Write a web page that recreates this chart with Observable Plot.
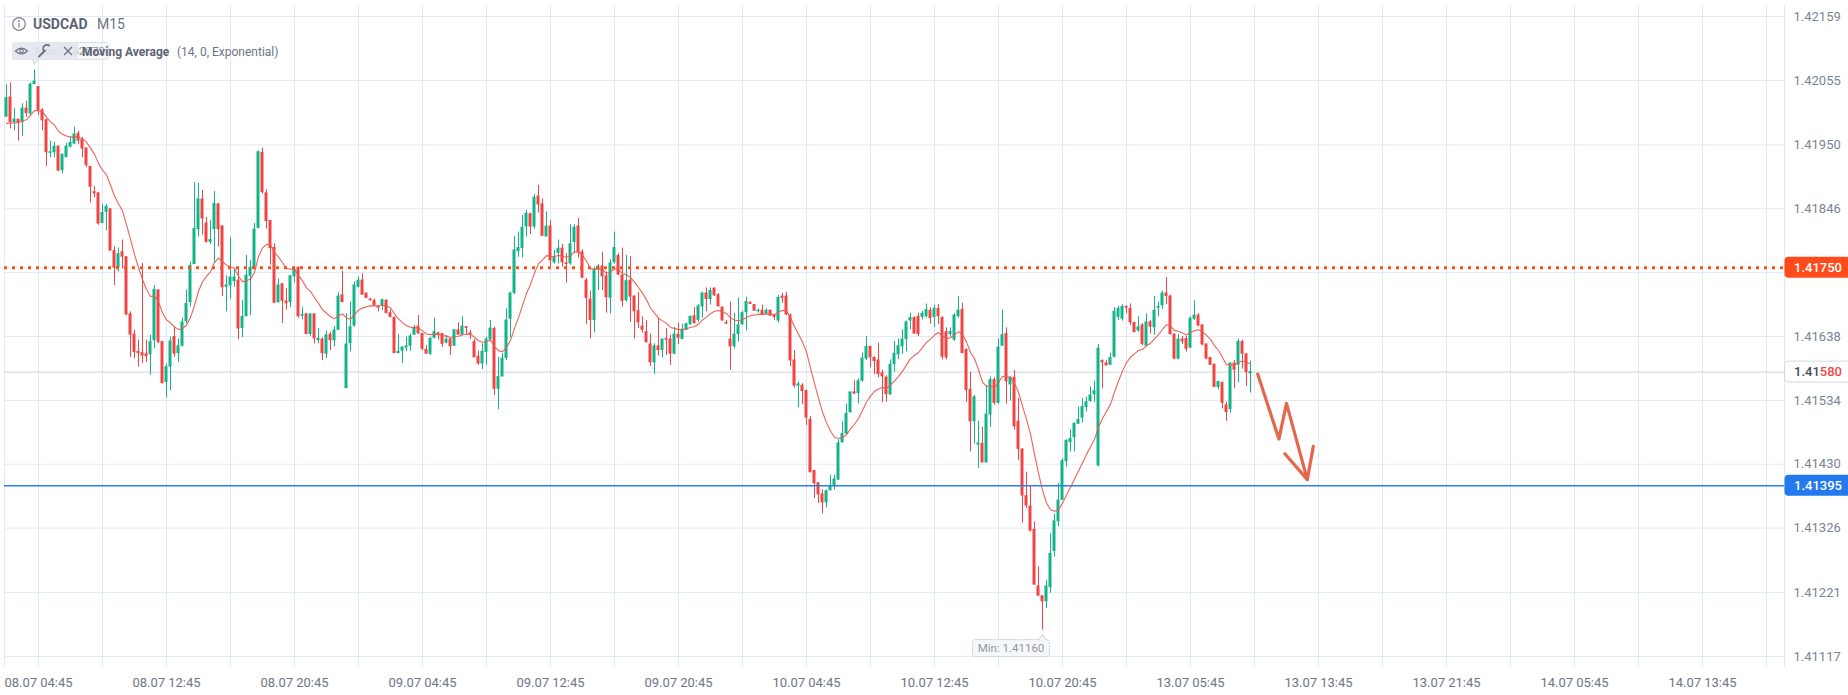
<!DOCTYPE html>
<html><head><meta charset="utf-8">
<script src="https://cdn.jsdelivr.net/npm/d3@7"></script>
<script src="https://cdn.jsdelivr.net/npm/@observablehq/plot@0.6"></script>
<style>
html,body{margin:0;padding:0;background:#fff;overflow:hidden;}
#chart{position:relative;width:1848px;height:695px;}
</style></head><body><div id="chart"></div>
<script>
// ---------- data ----------
const symbol = "USDCAD", timeframe = "M15";
const indicatorName = "Moving Average", indicatorParams = "(14, 0, Exponential)";
const maPeriod = 14;
const maSeed = 1.41985; // MA value read at the first visible bar

const opens = [
1.41996,1.42027,1.41987,1.41991,1.41987,1.42009,1.42001,1.42049,
1.42044,1.42006,1.41990,1.41937,1.41938,1.41947,1.41909,1.41930,
1.41947,1.41952,1.41968,1.41958,1.41944,1.41914,1.41873,1.41871,
1.41823,1.41841,1.41845,1.41777,1.41750,1.41775,1.41767,1.41674,
1.41641,1.41613,1.41611,1.41609,1.41609,1.41632,1.41713,1.41629,
1.41564,1.41589,1.41637,1.41611,1.41623,1.41663,1.41694,1.41756,
1.41813,1.41861,1.41822,1.41792,1.41813,1.41853,1.41817,1.41719,
1.41721,1.41728,1.41729,1.41652,1.41671,1.41737,1.41750,1.41815,
1.41937,1.41871,1.41826,1.41782,1.41694,1.41723,1.41695,1.41694,
1.41736,1.41750,1.41672,1.41674,1.41642,1.41674,1.41632,1.41633,
1.41610,1.41641,1.41632,1.41649,1.41705,1.41554,1.41627,1.41656,
1.41719,1.41729,1.41708,1.41698,1.41696,1.41687,1.41689,1.41696,
1.41676,1.41668,1.41611,1.41615,1.41620,1.41623,1.41641,1.41654,
1.41642,1.41616,1.41610,1.41636,1.41643,1.41642,1.41628,1.41633,
1.41623,1.41648,1.41641,1.41653,1.41643,1.41629,1.41605,1.41594,
1.41613,1.41633,1.41650,1.41553,1.41573,1.41603,1.41667,1.41709,
1.41777,1.41782,1.41817,1.41837,1.41817,1.41866,1.41853,1.41801,
1.41817,1.41759,1.41774,1.41781,1.41757,1.41757,1.41792,1.41817,
1.41775,1.41729,1.41698,1.41665,1.41747,1.41752,1.41736,1.41701,
1.41759,1.41769,1.41737,1.41697,1.41729,1.41703,1.41679,1.41654,
1.41645,1.41625,1.41596,1.41622,1.41616,1.41634,1.41633,1.41610,
1.41641,1.41634,1.41649,1.41658,1.41671,1.41665,1.41687,1.41708,
1.41699,1.41716,1.41705,1.41685,1.41660,1.41633,1.41622,1.41642,
1.41658,1.41678,1.41693,1.41689,1.41679,1.41680,1.41675,1.41680,
1.41672,1.41664,1.41703,1.41703,1.41672,1.41599,1.41558,1.41558,
1.41549,1.41502,1.41419,1.41399,1.41381,1.41368,1.41388,1.41395,
1.41405,1.41466,1.41480,1.41515,1.41547,1.41546,1.41566,1.41602,
1.41621,1.41603,1.41599,1.41578,1.41571,1.41544,1.41593,1.41609,
1.41622,1.41634,1.41664,1.41668,1.41670,1.41670,1.41671,1.41680,
1.41670,1.41683,1.41668,1.41645,1.41642,1.41633,1.41671,1.41681,
1.41616,1.41551,1.41500,1.41462,1.41463,1.41433,1.41511,1.41567,
1.41530,1.41623,1.41642,1.41560,1.41571,1.41499,1.41454,1.41378,
1.41361,1.41323,1.41231,1.41215,1.41207,1.41230,1.41289,1.41337,
1.41372,1.41435,1.41466,1.41474,1.41496,1.41506,1.41523,1.41533,
1.41544,1.41428,1.41598,1.41594,1.41592,1.41605,1.41670,1.41667,
1.41686,1.41683,1.41660,1.41648,1.41656,1.41623,1.41661,1.41653,
1.41685,1.41689,1.41708,1.41703,1.41641,1.41602,1.41633,1.41634,
1.41620,1.41667,1.41672,1.41656,1.41625,1.41603,1.41592,1.41556,
1.41562,1.41526,1.41520,1.41594,1.41592,1.41629,1.41609,1.41578];

const highs = [
1.42048,1.42051,1.42009,1.41991,1.42017,1.42021,1.42051,1.42072,
1.42045,1.42009,1.41992,1.41956,1.41954,1.41948,1.41934,1.41952,
1.41963,1.41979,1.41972,1.41962,1.41945,1.41915,1.41882,1.41873,
1.41853,1.41853,1.41846,1.41784,1.41782,1.41795,1.41768,1.41678,
1.41648,1.41632,1.41757,1.41632,1.41640,1.41721,1.41714,1.41630,
1.41593,1.41637,1.41653,1.41634,1.41668,1.41714,1.41759,1.41889,
1.41887,1.41876,1.41832,1.41827,1.41874,1.41855,1.41818,1.41737,
1.41799,1.41747,1.41751,1.41697,1.41770,1.41762,1.41822,1.41940,
1.41945,1.41877,1.41827,1.41789,1.41732,1.41724,1.41716,1.41737,
1.41752,1.41751,1.41685,1.41676,1.41675,1.41675,1.41651,1.41636,
1.41647,1.41645,1.41654,1.41709,1.41744,1.41675,1.41694,1.41727,
1.41735,1.41740,1.41708,1.41700,1.41699,1.41687,1.41699,1.41698,
1.41681,1.41670,1.41641,1.41621,1.41637,1.41642,1.41656,1.41672,
1.41643,1.41623,1.41637,1.41668,1.41645,1.41643,1.41640,1.41636,
1.41649,1.41660,1.41670,1.41654,1.41648,1.41633,1.41614,1.41626,
1.41637,1.41664,1.41653,1.41604,1.41610,1.41683,1.41710,1.41801,
1.41808,1.41835,1.41843,1.41839,1.41869,1.41884,1.41862,1.41841,
1.41827,1.41778,1.41795,1.41788,1.41773,1.41820,1.41820,1.41830,
1.41779,1.41732,1.41712,1.41751,1.41755,1.41775,1.41743,1.41763,
1.41808,1.41773,1.41782,1.41770,1.41768,1.41704,1.41710,1.41670,
1.41664,1.41642,1.41626,1.41667,1.41634,1.41651,1.41640,1.41653,
1.41660,1.41658,1.41659,1.41671,1.41685,1.41690,1.41710,1.41717,
1.41717,1.41717,1.41708,1.41686,1.41664,1.41694,1.41676,1.41701,
1.41679,1.41702,1.41694,1.41690,1.41683,1.41689,1.41683,1.41681,
1.41674,1.41705,1.41708,1.41710,1.41675,1.41615,1.41564,1.41561,
1.41551,1.41508,1.41420,1.41400,1.41388,1.41388,1.41412,1.41412,
1.41470,1.41499,1.41528,1.41547,1.41566,1.41569,1.41611,1.41638,
1.41622,1.41605,1.41627,1.41583,1.41574,1.41600,1.41630,1.41634,
1.41649,1.41663,1.41676,1.41670,1.41676,1.41679,1.41691,1.41685,
1.41689,1.41690,1.41670,1.41652,1.41652,1.41675,1.41703,1.41692,
1.41618,1.41580,1.41542,1.41500,1.41490,1.41558,1.41572,1.41571,
1.41634,1.41681,1.41652,1.41572,1.41583,1.41537,1.41455,1.41417,
1.41394,1.41336,1.41263,1.41216,1.41241,1.41317,1.41349,1.41399,
1.41439,1.41470,1.41486,1.41497,1.41523,1.41537,1.41539,1.41556,
1.41565,1.41625,1.41600,1.41599,1.41611,1.41685,1.41687,1.41690,
1.41688,1.41691,1.41661,1.41670,1.41659,1.41675,1.41664,1.41703,
1.41694,1.41712,1.41734,1.41705,1.41642,1.41641,1.41638,1.41638,
1.41670,1.41696,1.41675,1.41657,1.41626,1.41604,1.41593,1.41565,
1.41564,1.41531,1.41595,1.41599,1.41634,1.41632,1.41610,1.41598];

const lows = [
1.41995,1.41976,1.41973,1.41956,1.41964,1.41995,1.41998,1.42048,
1.41998,1.41973,1.41915,1.41929,1.41929,1.41907,1.41903,1.41929,
1.41945,1.41951,1.41951,1.41929,1.41913,1.41855,1.41864,1.41819,
1.41822,1.41810,1.41777,1.41721,1.41743,1.41748,1.41672,1.41604,
1.41602,1.41588,1.41594,1.41596,1.41575,1.41618,1.41626,1.41561,
1.41538,1.41550,1.41604,1.41596,1.41621,1.41659,1.41686,1.41755,
1.41800,1.41803,1.41790,1.41788,1.41757,1.41784,1.41703,1.41678,
1.41699,1.41718,1.41633,1.41636,1.41670,1.41672,1.41748,1.41813,
1.41870,1.41813,1.41754,1.41692,1.41692,1.41659,1.41681,1.41685,
1.41725,1.41668,1.41665,1.41641,1.41638,1.41626,1.41626,1.41599,
1.41602,1.41615,1.41621,1.41648,1.41693,1.41553,1.41613,1.41653,
1.41717,1.41706,1.41701,1.41696,1.41687,1.41678,1.41680,1.41675,
1.41668,1.41610,1.41610,1.41594,1.41613,1.41614,1.41640,1.41642,
1.41615,1.41609,1.41607,1.41634,1.41632,1.41620,1.41626,1.41607,
1.41622,1.41640,1.41640,1.41641,1.41633,1.41604,1.41591,1.41584,
1.41591,1.41630,1.41542,1.41519,1.41572,1.41599,1.41636,1.41706,
1.41767,1.41766,1.41800,1.41804,1.41813,1.41839,1.41801,1.41800,
1.41751,1.41756,1.41756,1.41751,1.41725,1.41754,1.41773,1.41766,
1.41732,1.41658,1.41634,1.41644,1.41713,1.41713,1.41676,1.41675,
1.41756,1.41737,1.41686,1.41694,1.41661,1.41634,1.41651,1.41644,
1.41627,1.41589,1.41576,1.41606,1.41603,1.41607,1.41591,1.41609,
1.41625,1.41633,1.41648,1.41656,1.41658,1.41661,1.41668,1.41678,
1.41689,1.41703,1.41686,1.41663,1.41658,1.41583,1.41618,1.41629,
1.41656,1.41647,1.41690,1.41679,1.41676,1.41673,1.41674,1.41671,
1.41664,1.41660,1.41692,1.41672,1.41589,1.41554,1.41522,1.41527,
1.41493,1.41416,1.41374,1.41366,1.41349,1.41359,1.41386,1.41388,
1.41404,1.41464,1.41477,1.41513,1.41544,1.41528,1.41564,1.41599,
1.41587,1.41576,1.41571,1.41530,1.41531,1.41542,1.41580,1.41600,
1.41609,1.41613,1.41649,1.41641,1.41638,1.41665,1.41668,1.41658,
1.41653,1.41658,1.41600,1.41600,1.41637,1.41630,1.41668,1.41610,
1.41531,1.41450,1.41463,1.41423,1.41432,1.41432,1.41490,1.41526,
1.41528,1.41622,1.41528,1.41533,1.41486,1.41436,1.41334,1.41358,
1.41320,1.41233,1.41215,1.41160,1.41195,1.41220,1.41279,1.41328,
1.41371,1.41425,1.41450,1.41450,1.41495,1.41497,1.41515,1.41531,
1.41531,1.41426,1.41553,1.41590,1.41591,1.41603,1.41664,1.41663,
1.41675,1.41656,1.41644,1.41645,1.41623,1.41622,1.41642,1.41640,
1.41670,1.41682,1.41690,1.41640,1.41600,1.41600,1.41625,1.41613,
1.41618,1.41664,1.41654,1.41623,1.41600,1.41591,1.41555,1.41551,
1.41520,1.41500,1.41513,1.41553,1.41562,1.41585,1.41557,1.41546];

const closes = [
1.42026,1.41987,1.41991,1.41987,1.42009,1.42002,1.42048,1.42053,
1.42007,1.41990,1.41938,1.41938,1.41947,1.41908,1.41934,1.41947,
1.41953,1.41967,1.41957,1.41944,1.41917,1.41882,1.41871,1.41822,
1.41839,1.41849,1.41778,1.41750,1.41772,1.41768,1.41674,1.41641,
1.41613,1.41611,1.41607,1.41606,1.41629,1.41714,1.41629,1.41562,
1.41588,1.41630,1.41610,1.41622,1.41661,1.41691,1.41753,1.41813,
1.41861,1.41830,1.41792,1.41795,1.41854,1.41813,1.41718,1.41721,
1.41734,1.41734,1.41651,1.41670,1.41737,1.41750,1.41812,1.41938,
1.41873,1.41826,1.41782,1.41693,1.41721,1.41696,1.41692,1.41736,
1.41747,1.41671,1.41673,1.41642,1.41674,1.41635,1.41634,1.41611,
1.41640,1.41632,1.41648,1.41703,1.41694,1.41625,1.41653,1.41721,
1.41729,1.41706,1.41701,1.41697,1.41689,1.41685,1.41697,1.41676,
1.41670,1.41611,1.41613,1.41620,1.41622,1.41638,1.41652,1.41643,
1.41618,1.41610,1.41634,1.41645,1.41641,1.41626,1.41633,1.41622,
1.41648,1.41641,1.41654,1.41652,1.41641,1.41604,1.41594,1.41613,
1.41633,1.41651,1.41553,1.41572,1.41602,1.41664,1.41708,1.41778,
1.41782,1.41815,1.41838,1.41817,1.41864,1.41853,1.41802,1.41817,
1.41762,1.41766,1.41781,1.41759,1.41756,1.41788,1.41815,1.41775,
1.41734,1.41701,1.41665,1.41747,1.41752,1.41736,1.41702,1.41757,
1.41782,1.41739,1.41696,1.41728,1.41703,1.41679,1.41661,1.41649,
1.41629,1.41596,1.41622,1.41616,1.41633,1.41633,1.41610,1.41641,
1.41636,1.41649,1.41658,1.41670,1.41660,1.41687,1.41708,1.41699,
1.41712,1.41705,1.41687,1.41664,1.41659,1.41622,1.41641,1.41656,
1.41676,1.41694,1.41691,1.41680,1.41680,1.41674,1.41680,1.41672,
1.41670,1.41701,1.41701,1.41674,1.41599,1.41558,1.41560,1.41549,
1.41506,1.41417,1.41399,1.41381,1.41368,1.41386,1.41395,1.41405,
1.41464,1.41479,1.41512,1.41547,1.41545,1.41565,1.41602,1.41621,
1.41604,1.41598,1.41577,1.41573,1.41544,1.41592,1.41610,1.41622,
1.41633,1.41661,1.41668,1.41643,1.41642,1.41675,1.41681,1.41668,
1.41683,1.41671,1.41605,1.41604,1.41645,1.41672,1.41680,1.41611,
1.41551,1.41500,1.41539,1.41464,1.41433,1.41511,1.41567,1.41530,
1.41620,1.41640,1.41565,1.41571,1.41492,1.41455,1.41379,1.41363,
1.41322,1.41234,1.41216,1.41207,1.41231,1.41284,1.41337,1.41371,
1.41435,1.41468,1.41471,1.41496,1.41502,1.41523,1.41531,1.41542,
1.41549,1.41618,1.41596,1.41591,1.41603,1.41678,1.41683,1.41686,
1.41685,1.41661,1.41645,1.41653,1.41626,1.41661,1.41654,1.41680,
1.41686,1.41708,1.41704,1.41642,1.41602,1.41633,1.41630,1.41618,
1.41667,1.41672,1.41656,1.41625,1.41602,1.41592,1.41556,1.41564,
1.41530,1.41515,1.41594,1.41584,1.41629,1.41610,1.41580,1.41580];

const xLabels = ["08.07 04:45","08.07 12:45","08.07 20:45","09.07 04:45","09.07 12:45",
  "09.07 20:45","10.07 04:45","10.07 12:45","10.07 20:45","13.07 05:45","13.07 13:45",
  "13.07 21:45","14.07 05:45","14.07 13:45"];
const firstLabelBar = 8, barsPerLabel = 32, barsPerGrid = 16;
const yTicks = [1.42159,1.42055,1.41950,1.41846,1.41742,1.41638,1.41534,1.41430,1.41326,1.41221,1.41117];
const resistance = 1.41750, support = 1.41395;

// hand-drawn forecast arrow (bar index, price)
const arrowBars   = [312.8, 318.1, 320.0, 325.2];
const arrowPrices = [1.41577, 1.41471, 1.41529, 1.41405];
const arrowHeadBars   = [319.6, 325.2, 326.7];
const arrowHeadPrices = [1.41447, 1.41405, 1.41459];

// ---------- build ----------
if (![highs, lows, closes].every(a => a.length === opens.length)) throw new Error("length mismatch " + [opens.length, highs.length, lows.length, closes.length]);

const UP = "#13b488", DOWN = "#ef4545";
const gridColor = "#e2e9f5";
const bars = opens.map((o, i) => ({i, open: o, high: highs[i], low: lows[i], close: closes[i]}));
const alpha = 2 / (maPeriod + 1);
let ema = maSeed;
bars.forEach((d, i) => { if (i > 0) ema = alpha * d.close + (1 - alpha) * ema; d.ema = ema; });
const colorOf = d => d.close >= d.open ? UP : DOWN;

const lastBarSlot = 444;
const gridBars = d3.range(firstLabelBar, lastBarSlot, barsPerGrid);
const labelBars = xLabels.map((_, j) => firstLabelBar + j * barsPerLabel);
const labelMap = new Map(labelBars.map((b, j) => [b, xLabels[j]]));
const currentPrice = closes[closes.length - 1];
const tickStep = (yTicks[0] - yTicks[yTicks.length - 1]) / (yTicks.length - 1);
const yDomain = [yTicks[yTicks.length - 1] - tickStep * 11 / 64, yTicks[0] + tickStep * 11 / 64];
const yLabelTicks = yTicks.filter(v => Math.abs(v - resistance) > tickStep / 4);
const arrowPts = arrowBars.map((b, j) => ({b, p: arrowPrices[j]}));
const headPts = arrowHeadBars.map((b, j) => ({b, p: arrowHeadPrices[j]}));
const arrowColor = "#e6664d";
const fmt = d3.format(".5f");

const plot = Plot.plot({
  width: 1848, height: 695,
  marginLeft: 4, marginRight: 64, marginTop: 5, marginBottom: 28,
  style: {fontFamily: "Roboto, sans-serif", fontSize: "13px", color: "#7b8391", background: "#ffffff"},
  x: {type: "linear", domain: [-0.5, lastBarSlot + 0.5]},
  y: {type: "linear", domain: yDomain},
  marks: [
    Plot.gridX(gridBars, {stroke: gridColor, strokeOpacity: 1}),
    Plot.gridY(yTicks, {stroke: gridColor, strokeOpacity: 1}),
    Plot.ruleX([-0.5], {stroke: gridColor}),
    Plot.ruleX([lastBarSlot + 0.5], {stroke: gridColor}),
    Plot.ruleY([currentPrice], {stroke: "#ccd4e0", strokeWidth: 1}),
    Plot.ruleX(bars, {x: "i", y1: "low", y2: "high", stroke: colorOf, strokeWidth: 1}),
    Plot.rect(bars, {x1: d => d.i - 0.375, x2: d => d.i + 0.375, y1: "open", y2: "close", fill: colorOf, insetTop: -0.5, insetBottom: -0.5}),
    Plot.line(bars, {x: "i", y: "ema", stroke: "#ec5a50", strokeWidth: 1.1, strokeOpacity: 0.95}),
    Plot.ruleY([support], {stroke: "#2f7fe6", strokeWidth: 1.3}),
    Plot.ruleY([resistance], {stroke: "#ff4d1c", strokeWidth: 3, strokeDasharray: "3,5"}),
    Plot.line(arrowPts, {x: "b", y: "p", stroke: arrowColor, strokeWidth: 3.2, strokeLinecap: "round", strokeLinejoin: "round"}),
    Plot.line(headPts, {x: "b", y: "p", stroke: arrowColor, strokeWidth: 3.2, strokeLinecap: "round", strokeLinejoin: "round"}),
    Plot.axisY(yLabelTicks, {anchor: "right", tickSize: 0, tickPadding: 9, tickFormat: fmt, label: null, fill: "#7b8391"}),
    Plot.axisX(labelBars, {anchor: "bottom", tickSize: 0, tickPadding: 10, tickFormat: d => labelMap.get(d), label: null, fill: "#6c7585"})
  ]
});
document.getElementById("chart").appendChild(plot);

// ---------- overlays positioned through the plot's scales ----------
const xs = plot.scale("x"), ys = plot.scale("y");
const svg = d3.select(plot);
const g = svg.append("g").attr("font-family", "Roboto, sans-serif").attr("text-anchor", "start");

// price tags on the right axis
function tag(value, fill, stroke, parts) {
  const y = ys.apply(value);
  g.append("rect").attr("x", 1784.5).attr("y", y - 10.5).attr("width", 72).attr("height", 21)
    .attr("rx", 4).attr("fill", fill).attr("stroke", stroke || "none");
  const t = g.append("text").attr("x", 1794).attr("y", y).attr("dy", "0.35em")
    .attr("font-size", 13).attr("font-weight", 500);
  parts.forEach(([s, c]) => t.append("tspan").attr("fill", c).text(s));
}
tag(resistance, "#ff4a1c", null, [[fmt(resistance), "#ffffff"]]);
tag(support, "#2379ee", null, [[fmt(support), "#ffffff"]]);
const cp = fmt(currentPrice);
tag(currentPrice, "#ffffff", "#d3d9e3", [[cp.slice(0, 4), "#434b59"], [cp.slice(4), "#ef4545"]]);

// min / max tooltips
const iMin = d3.minIndex(lows), iMax = d3.maxIndex(highs);
function tip(i, value, below, label) {
  const px = xs.apply(i) + 0.5, py = ys.apply(value);
  const bx = below ? px - 70 : px - 3;
  const by = below ? py + 10 : py - 27;
  g.append("rect").attr("x", bx).attr("y", by).attr("width", 77).attr("height", 17).attr("rx", 3)
    .attr("fill", "#f6f7f9").attr("stroke", "#c9cfd9").attr("stroke-dasharray", "2,1");
  const pth = below
    ? `M${px - 4},${by + 0.5} L${px},${py + 5} L${px + 4},${by + 0.5}`
    : `M${px - 2},${by + 16.5} L${px},${py - 5} L${px + 4},${by + 16.5}`;
  g.append("path").attr("d", pth).attr("fill", "#f6f7f9").attr("stroke", "#c9cfd9");
  g.append("text").attr("x", bx + 38.5).attr("y", by + 8.5).attr("dy", "0.35em")
    .attr("text-anchor", "middle").attr("font-size", 11.5).attr("fill", "#8f98a6")
    .text(label + ": " + fmt(value));
}
tip(iMax, highs[iMax], false, "Max");
tip(iMin, lows[iMin], true, "Min");

// title
g.append("circle").attr("cx", 19).attr("cy", 24).attr("r", 6.3).attr("fill", "none").attr("stroke", "#7b8391").attr("stroke-width", 1.2);
g.append("circle").attr("cx", 19).attr("cy", 21).attr("r", 0.9).attr("fill", "#7b8391");
g.append("line").attr("x1", 19).attr("x2", 19).attr("y1", 23).attr("y2", 27.6).attr("stroke", "#7b8391").attr("stroke-width", 1.3);
g.append("text").attr("x", 33).attr("y", 29.3).attr("font-size", 14).attr("font-weight", 700).attr("fill", "#5b6473").text(symbol);
g.append("text").attr("x", 97).attr("y", 29.3).attr("font-size", 14).attr("fill", "#6b7483").text(timeframe);

// legend row
g.append("rect").attr("x", 12).attr("y", 42).attr("width", 66).attr("height", 18).attr("rx", 3).attr("fill", "rgba(226,230,237,0.88)");
g.append("path").attr("d", "M15.5,51 Q21.5,45.2 27.5,51 Q21.5,56.8 15.5,51 Z").attr("fill", "none").attr("stroke", "#6b7483").attr("stroke-width", 1.2);
g.append("circle").attr("cx", 21.5).attr("cy", 51).attr("r", 1.8).attr("fill", "none").attr("stroke", "#6b7483").attr("stroke-width", 1.1);
g.append("line").attr("x1", 39).attr("y1", 56.5).attr("x2", 45).attr("y2", 50.5).attr("stroke", "#6b7483").attr("stroke-width", 2).attr("stroke-linecap", "round");
g.append("path").attr("d", "M44.2,51.3 A3.6,3.6 0 1 1 49.6,46").attr("fill", "none").attr("stroke", "#6b7483").attr("stroke-width", 1.8);
g.append("line").attr("x1", 64).attr("y1", 47).attr("x2", 72).attr("y2", 55).attr("stroke", "#6b7483").attr("stroke-width", 1.3);
g.append("line").attr("x1", 72).attr("y1", 47).attr("x2", 64).attr("y2", 55).attr("stroke", "#6b7483").attr("stroke-width", 1.3);
g.append("text").attr("x", 82).attr("y", 55.5).attr("font-size", 12).attr("font-weight", 700).attr("fill", "#5b6473").text(indicatorName);
g.append("text").attr("x", 177).attr("y", 55.5).attr("font-size", 12).attr("fill", "#6b7483").text(indicatorParams);
</script></body></html>
